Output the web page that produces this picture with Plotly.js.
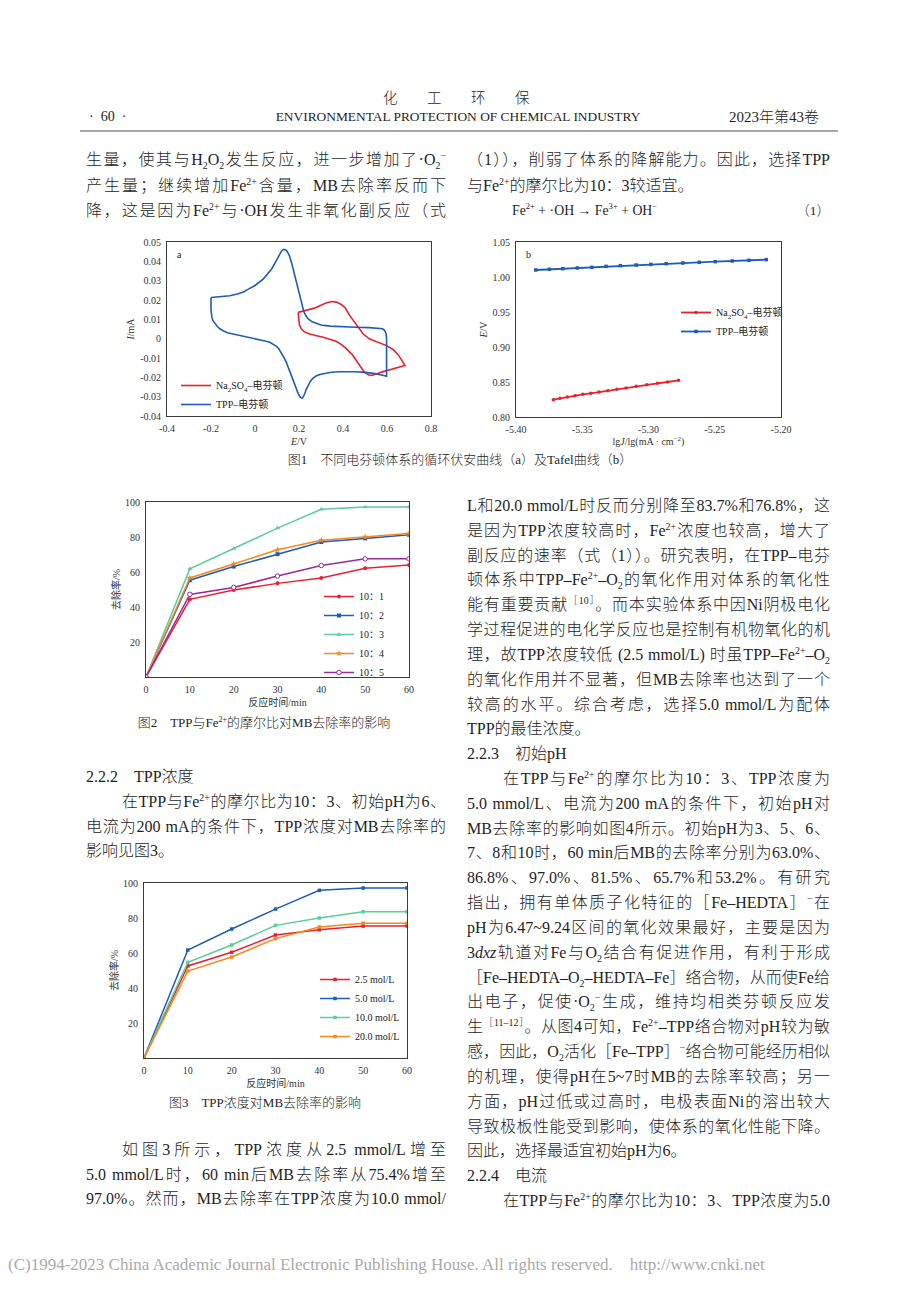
<!DOCTYPE html>
<html><head><meta charset="utf-8">
<script src="https://cdn.plot.ly/plotly-3.0.1.min.js"></script>
<style>
html,body{margin:0;padding:0;background:#fff;}
#page{position:relative;width:920px;height:1302px;overflow:hidden;background:#fff;}
#plot{position:absolute;left:0;top:0;width:920px;height:1302px;}
.t{position:absolute;font-family:"Liberation Serif","Noto Sans CJK SC",serif;color:#1e1e1e;white-space:nowrap;line-height:20px;height:20px;font-weight:300;}
.b{font-size:16px;}
.j{text-align:justify;text-align-last:justify;white-space:normal;}
.t sup,.t sub{font-size:62%;line-height:0;}
.cap{font-size:13px;text-align:center;}
#rule{position:absolute;left:80px;top:130px;width:758px;height:2px;background:#a8a8a8;}
</style></head>
<body><div id="page"><div id="plot"></div><div id="rule"></div></div>
<script>
// ---------- data ----------
const cvTppE = [-0.200,-0.170,-0.140,-0.115,-0.080,-0.050,-0.030,0.000,0.037,0.060,0.075,0.090,0.100,0.113,0.122,0.130,0.138,0.146,0.156,0.166,0.175,0.184,0.194,0.204,0.213,0.222,0.232,0.242,0.260,0.280,0.300,0.340,0.400,0.460,0.520,0.560,0.580,0.590,0.596,0.598,0.598,0.598,
 0.575,0.553,0.520,0.492,0.450,0.416,0.380,0.340,0.310,0.295,0.280,0.264,0.252,0.242,0.233,0.226,0.220,0.216,0.210,0.204,0.196,0.189,0.178,0.166,0.155,0.143,0.130,0.120,0.108,0.098,0.083,0.067,0.045,0.022,-0.010,-0.039,-0.070,-0.100,-0.125,-0.145,-0.160,-0.172,-0.183,-0.191,-0.196,-0.198,-0.200,-0.200,-0.200];
const cvTppI = [0.0213,0.0215,0.0218,0.0222,0.0231,0.0243,0.0256,0.0275,0.0308,0.0338,0.0359,0.0390,0.0411,0.0442,0.0456,0.0462,0.0460,0.0452,0.0430,0.0394,0.0352,0.0308,0.0262,0.0222,0.0178,0.0140,0.0117,0.0102,0.0087,0.0077,0.0071,0.0065,0.0061,0.0059,0.0057,0.0055,0.0051,0.0042,0.0025,0.0000,-0.0100,-0.0194,
 -0.0188,-0.0182,-0.0177,-0.0173,-0.0171,-0.0170,-0.0171,-0.0175,-0.0180,-0.0185,-0.0192,-0.0204,-0.0220,-0.0239,-0.0262,-0.0285,-0.0300,-0.0307,-0.0306,-0.0300,-0.0283,-0.0262,-0.0225,-0.0190,-0.0156,-0.0124,-0.0094,-0.0072,-0.0052,-0.0040,-0.0028,-0.0019,-0.0012,-0.0006,0.0000,0.0007,0.0015,0.0023,0.0031,0.0041,0.0051,0.0064,0.0078,0.0093,0.0110,0.0127,0.0150,0.0180,0.0213];
const cvNaE = [0.196,0.210,0.230,0.249,0.270,0.290,0.320,0.348,0.370,0.390,0.410,0.431,0.450,0.462,0.480,0.492,0.522,0.545,0.568,0.598,0.629,0.651,0.666,0.682,
 0.665,0.645,0.620,0.595,0.575,0.555,0.540,0.530,0.518,0.505,0.492,0.477,0.460,0.440,0.416,0.395,0.371,0.340,0.310,0.280,0.249,0.225,0.211,0.202,0.198,0.196];
const cvNaI = [0.0136,0.0140,0.0145,0.0150,0.0158,0.0168,0.0183,0.0192,0.0189,0.0178,0.0160,0.0119,0.0088,0.0067,0.0042,0.0024,-0.0002,-0.0013,-0.0022,-0.0036,-0.0057,-0.0084,-0.0110,-0.0139,
 -0.0144,-0.0150,-0.0157,-0.0165,-0.0173,-0.0181,-0.0187,-0.0190,-0.0188,-0.0180,-0.0165,-0.0139,-0.0110,-0.0080,-0.0053,-0.0032,-0.0015,-0.0003,0.0007,0.0015,0.0024,0.0035,0.0050,0.0070,0.0100,0.0136];

const tafelTppX = [-5.3851,-5.3748,-5.3647,-5.3537,-5.3428,-5.3320,-5.3212,-5.3093,-5.2982,-5.2866,-5.2741,-5.2617,-5.2496,-5.2368,-5.2242,-5.2111];
const tafelTppY = [1.0100,1.0110,1.0119,1.0129,1.0138,1.0152,1.0162,1.0171,1.0180,1.0190,1.0200,1.0210,1.0219,1.0229,1.0238,1.0248];
const tafelNaX = [-5.3718,-5.3668,-5.3612,-5.3554,-5.3496,-5.3436,-5.3373,-5.3307,-5.3239,-5.3169,-5.3093,-5.3013,-5.2932,-5.2856,-5.2773];
const tafelNaY = [0.8248,0.8267,0.8286,0.8305,0.8324,0.8338,0.8357,0.8376,0.8395,0.8414,0.8438,0.8462,0.8481,0.8500,0.8524];

const time = [0,10,20,30,40,50,60];
const ratio101 = [0,44.4,49.7,53.5,56.6,62.1,64.0];
const ratio102 = [0,55.3,63.1,70.2,77.1,79.2,81.3];
const ratio103 = [0,61.8,73.4,85.1,95.8,97.1,97.1];
const ratio104 = [0,56.6,64.6,72.7,78.2,80.1,82.0];
const ratio105 = [0,47.2,51.2,57.7,63.7,67.5,67.5];
const ratioNames = ['10：1','10：2','10：3','10：4','10：5'];

const conc25 = [0,52.6,60.4,70.3,73.3,75.4,75.4];
const conc50 = [0,61.7,73.7,85.1,95.8,97.1,97.1];
const conc100 = [0,54.7,64.6,75.8,80.0,83.6,83.6];
const conc200 = [0,49.7,57.7,68.2,74.9,77.0,77.0];
const concNames = ['2.5 mol/L','5.0 mol/L','10.0 mol/L','20.0 mol/L'];

const cvXTickVals = [-0.4,-0.2,0,0.2,0.4,0.6,0.8];
const cvXTickText = ['-0.4','-0.2','0','0.2','0.4','0.6','0.8'];
const cvYTickVals = [-0.04,-0.03,-0.02,-0.01,0,0.01,0.02,0.03,0.04,0.05];
const cvYTickText = ['-0.04','-0.03','-0.02','-0.01','0','0.01','0.02','0.03','0.04','0.05'];
const tfXTickVals = [-5.40,-5.35,-5.30,-5.25,-5.20];
const tfXTickText = ['-5.40','-5.35','-5.30','-5.25','-5.20'];
const tfYTickVals = [0.80,0.85,0.90,0.95,1.00,1.05];
const tfYTickText = ['0.80','0.85','0.90','0.95','1.00','1.05'];
const timeTicks = [0,10,20,30,40,50,60];
const rateTicks = [20,40,60,80,100];

// ---------- plot ----------
const W = 920, H = 1302;
const fx = v => v / W, fy = v => 1 - v / H;
const FONT = 'Liberation Serif, Noto Sans CJK SC, serif';
const RED = '#e8212e', BLUE = '#1f5db5', GREEN = '#5ccb9f', ORANGE = '#f5891f', PURPLE = '#9a2a98';

function ax(domain, range, anchor, tv, tt, title, standoff) {
  return {domain, range, anchor, tickvals: tv, ticktext: tt, tickmode: 'array',
    showline: true, mirror: true, linecolor: '#3a3a3a', linewidth: 1, ticks: '',
    showgrid: false, zeroline: false, ticklabelstandoff: 3,
    tickfont: {family: FONT, size: 10, color: '#333'},
    title: {text: title, font: {family: FONT, size: 10, color: '#333'}, standoff: standoff}};
}
function leg(x, y) {
  return {x: fx(x), y: fy(y), xanchor: 'left', yanchor: 'top', bgcolor: 'rgba(0,0,0,0)',
    font: {family: FONT, size: 10, color: '#222'}, itemwidth: 30, tracegroupgap: 0, traceorder: 'normal'};
}

const traces = [
  {x: cvNaE, y: cvNaI, xaxis: 'x', yaxis: 'y', mode: 'lines', line: {color: RED, width: 1.6}, name: 'Na<sub>2</sub>SO<sub>4</sub>–电芬顿', legend: 'legend'},
  {x: cvTppE, y: cvTppI, xaxis: 'x', yaxis: 'y', mode: 'lines', line: {color: BLUE, width: 1.6}, name: 'TPP–电芬顿', legend: 'legend'},
  {x: tafelNaX, y: tafelNaY, xaxis: 'x2', yaxis: 'y2', mode: 'lines+markers', line: {color: RED, width: 1.8}, marker: {symbol: 'circle', size: 3.5, color: RED}, name: 'Na<sub>2</sub>SO<sub>4</sub>–电芬顿', legend: 'legend2'},
  {x: tafelTppX, y: tafelTppY, xaxis: 'x2', yaxis: 'y2', mode: 'lines+markers', line: {color: BLUE, width: 1.8}, marker: {symbol: 'square', size: 3.5, color: BLUE}, name: 'TPP–电芬顿', legend: 'legend2'},
  {x: time, y: ratio101, xaxis: 'x3', yaxis: 'y3', mode: 'lines+markers', line: {color: RED, width: 1.5}, marker: {symbol: 'circle', size: 4, color: RED}, name: ratioNames[0], legend: 'legend3'},
  {x: time, y: ratio102, xaxis: 'x3', yaxis: 'y3', mode: 'lines+markers', line: {color: BLUE, width: 1.5}, marker: {symbol: 'square', size: 4, color: BLUE}, name: ratioNames[1], legend: 'legend3'},
  {x: time, y: ratio103, xaxis: 'x3', yaxis: 'y3', mode: 'lines+markers', line: {color: GREEN, width: 1.5}, marker: {symbol: 'triangle-up', size: 4.5, color: GREEN}, name: ratioNames[2], legend: 'legend3'},
  {x: time, y: ratio104, xaxis: 'x3', yaxis: 'y3', mode: 'lines+markers', line: {color: ORANGE, width: 1.5}, marker: {symbol: 'star', size: 5, color: ORANGE}, name: ratioNames[3], legend: 'legend3'},
  {x: time, y: ratio105, xaxis: 'x3', yaxis: 'y3', mode: 'lines+markers', line: {color: PURPLE, width: 1.5}, marker: {symbol: 'circle', size: 4.5, color: '#fff', line: {color: PURPLE, width: 1}}, name: ratioNames[4], legend: 'legend3'},
  {x: time, y: conc25, xaxis: 'x4', yaxis: 'y4', mode: 'lines+markers', line: {color: RED, width: 1.5}, marker: {symbol: 'square', size: 3.5, color: RED}, name: concNames[0], legend: 'legend4'},
  {x: time, y: conc50, xaxis: 'x4', yaxis: 'y4', mode: 'lines+markers', line: {color: BLUE, width: 1.5}, marker: {symbol: 'square', size: 3.5, color: BLUE}, name: concNames[1], legend: 'legend4'},
  {x: time, y: conc100, xaxis: 'x4', yaxis: 'y4', mode: 'lines+markers', line: {color: GREEN, width: 1.5}, marker: {symbol: 'square', size: 3.5, color: GREEN}, name: concNames[2], legend: 'legend4'},
  {x: time, y: conc200, xaxis: 'x4', yaxis: 'y4', mode: 'lines+markers', line: {color: ORANGE, width: 1.5}, marker: {symbol: 'square', size: 3.5, color: ORANGE}, name: concNames[3], legend: 'legend4'}
];

const layout = {
  width: W, height: H, margin: {l: 0, r: 0, t: 0, b: 0},
  paper_bgcolor: 'rgba(0,0,0,0)', plot_bgcolor: 'rgba(0,0,0,0)', showlegend: true,
  font: {family: FONT},
  xaxis: ax([fx(167), fx(431)], [-0.4, 0.8], 'y', cvXTickVals, cvXTickText, '<i>E</i>/V', 4),
  yaxis: ax([fy(416), fy(242)], [-0.04, 0.05], 'x', cvYTickVals, cvYTickText, '<i>I</i>/mA', 3),
  xaxis2: ax([fx(516), fx(781)], [-5.40, -5.20], 'y2', tfXTickVals, tfXTickText, 'lg<i>J</i>/lg(mA · cm<sup>−2</sup>)', 3),
  yaxis2: ax([fy(417), fy(242)], [0.80, 1.05], 'x2', tfYTickVals, tfYTickText, '<i>E</i>/V', 3),
  xaxis3: ax([fx(146), fx(409)], [0, 60], 'y3', timeTicks, timeTicks.map(String), '反应时间/min', 4),
  yaxis3: ax([fy(677), fy(502)], [0, 100], 'x3', rateTicks, rateTicks.map(String), '去除率/%', 2),
  xaxis4: ax([fx(144), fx(407)], [0, 60], 'y4', timeTicks, timeTicks.map(String), '反应时间/min', 4),
  yaxis4: ax([fy(1058), fy(883)], [0, 100], 'x4', rateTicks, rateTicks.map(String), '去除率/%', 2),
  legend: leg(176, 371),
  legend2: leg(676, 298),
  legend3: leg(319, 582),
  legend4: leg(315, 965),
  annotations: [
    {xref: 'x domain', yref: 'y domain', x: 0.03, y: 0.97, xanchor: 'left', yanchor: 'top', text: 'a', showarrow: false, font: {family: FONT, size: 10, color: '#222'}},
    {xref: 'x2 domain', yref: 'y2 domain', x: 0.03, y: 0.97, xanchor: 'left', yanchor: 'top', text: 'b', showarrow: false, font: {family: FONT, size: 10, color: '#222'}}
  ]
};
Plotly.newPlot('plot', traces, layout, {displayModeBar: false, staticPlot: true});

// ---------- text ----------
const page = document.getElementById('page');
function put(x, yc, w, html, cls, extra) {
  const d = document.createElement('div');
  d.className = 't ' + cls;
  d.style.left = x + 'px'; d.style.top = (yc - 10) + 'px';
  if (w) d.style.width = w + 'px';
  if (extra) Object.assign(d.style, extra);
  d.innerHTML = html;
  page.appendChild(d);
}
// header
put(370, 98, 180, '化　工　环　保', '', {fontSize: '14.5px', letterSpacing: '7.5px', textAlign: 'center'});
put(89, 117, 60, '·&nbsp;&nbsp;60&nbsp;&nbsp;·', '', {fontSize: '14px'});
put(220, 117, 476, 'ENVIRONMENTAL PROTECTION OF CHEMICAL INDUSTRY', '', {fontSize: '13.4px', textAlign: 'center'});
put(690, 117, 129, '2023年第43卷', '', {fontSize: '15px', textAlign: 'right'});

const LX = 86, LW = 360, RX = 467, RW = 363, IND = '36px';
// left top
put(LX, 160, LW, '生量，使其与H<sub>2</sub>O<sub>2</sub>发生反应，进一步增加了·O<sub>2</sub><sup>−</sup>', 'b j');
put(LX, 186, LW, '产生量；继续增加Fe<sup>2+</sup>含量，MB去除率反而下', 'b j');
put(LX, 211, LW, '降，这是因为Fe<sup>2+</sup>与·OH发生非氧化副反应（式', 'b j');
// right top
put(RX, 160, RW, '（1）），削弱了体系的降解能力。因此，选择TPP', 'b j');
put(RX, 186, RW, '与Fe<sup>2+</sup>的摩尔比为10：3较适宜。', 'b');
put(512, 211, 200, 'Fe<sup>2+</sup> + ·OH → Fe<sup>3+</sup> + OH<sup>−</sup>', '', {fontSize: '13.8px'});
put(780, 211, 50, '（1）', '', {fontSize: '13.5px', textAlign: 'right'});
// captions
put(160, 460, 600, '图1　不同电芬顿体系的循环伏安曲线（a）及Tafel曲线（b）', 'cap');
put(64, 723, 400, '图2　TPP与Fe<sup>2+</sup>的摩尔比对MB去除率的影响', 'cap');
put(65, 1103, 400, '图3　TPP浓度对MB去除率的影响', 'cap');
// left lower
put(LX, 777, LW, '2.2.2&emsp;TPP浓度', 'b');
put(LX, 802, LW, '在TPP与Fe<sup>2+</sup>的摩尔比为10：3、初始pH为6、', 'b j', {textIndent: IND});
put(LX, 826.6, LW, '电流为200 mA的条件下，TPP浓度对MB去除率的', 'b j');
put(LX, 851.4, LW, '影响见图3。', 'b');
put(LX, 1150, LW, '如图3所示，TPP浓度从2.5 mmol/L增至', 'b j', {textIndent: IND});
put(LX, 1174.6, LW, '5.0 mmol/L时，60 min后MB去除率从75.4%增至', 'b j');
put(LX, 1199.2, LW, '97.0%。然而，MB去除率在TPP浓度为10.0 mmol/', 'b j');
// right column
const rLines = [
 ['L和20.0 mmol/L时反而分别降至83.7%和76.8%，这', 'j'],
 ['是因为TPP浓度较高时，Fe<sup>2+</sup>浓度也较高，增大了', 'j'],
 ['副反应的速率（式（1））。研究表明，在TPP–电芬', 'j'],
 ['顿体系中TPP–Fe<sup>2+</sup>–O<sub>2</sub>的氧化作用对体系的氧化性', 'j'],
 ['能有重要贡献<sup>［10］</sup>。而本实验体系中因Ni阴极电化', 'j'],
 ['学过程促进的电化学反应也是控制有机物氧化的机', 'j'],
 ['理，故TPP浓度较低 (2.5 mmol/L) 时虽TPP–Fe<sup>2+</sup>–O<sub>2</sub>', 'j'],
 ['的氧化作用并不显著，但MB去除率也达到了一个', 'j'],
 ['较高的水平。综合考虑，选择5.0 mmol/L为配体', 'j'],
 ['TPP的最佳浓度。', ''],
 ['2.2.3&emsp;初始pH', ''],
 ['在TPP与Fe<sup>2+</sup>的摩尔比为10：3、TPP浓度为', 'j i'],
 ['5.0 mmol/L、电流为200 mA的条件下，初始pH对', 'j'],
 ['MB去除率的影响如图4所示。初始pH为3、5、6、', 'j'],
 ['7、8和10时，60 min后MB的去除率分别为63.0%、', 'j'],
 ['86.8%、97.0%、81.5%、65.7%和53.2%。有研究', 'j'],
 ['指出，拥有单体质子化特征的［Fe–HEDTA］<sup>−</sup>在', 'j'],
 ['pH为6.47~9.24区间的氧化效果最好，主要是因为', 'j'],
 ['3<i>dxz</i>轨道对Fe与O<sub>2</sub>结合有促进作用，有利于形成', 'j'],
 ['［Fe–HEDTA–O<sub>2</sub>–HEDTA–Fe］络合物，从而使Fe给', 'j'],
 ['出电子，促使·O<sub>2</sub><sup>−</sup>生成，维持均相类芬顿反应发', 'j'],
 ['生<sup>［11–12］</sup>。从图4可知，Fe<sup>2+</sup>–TPP络合物对pH较为敏', 'j'],
 ['感，因此，O<sub>2</sub>活化［Fe–TPP］<sup>−</sup>络合物可能经历相似', 'j'],
 ['的机理，使得pH在5~7时MB的去除率较高；另一', 'j'],
 ['方面，pH过低或过高时，电极表面Ni的溶出较大', 'j'],
 ['导致极板性能受到影响，使体系的氧化性能下降。', 'j'],
 ['因此，选择最适宜初始pH为6。', ''],
 ['2.2.4&emsp;电流', ''],
 ['在TPP与Fe<sup>2+</sup>的摩尔比为10：3、TPP浓度为5.0', 'j i']
];
rLines.forEach((l, k) => {
  const ind = l[1].indexOf('i') >= 0;
  put(RX, 506 + k * 24.82, RW, l[0], 'b ' + (l[1].indexOf('j') >= 0 ? 'j' : ''), ind ? {textIndent: IND} : null);
});
// footer
put(8, 1265, 900, '(C)1994-2023 China Academic Journal Electronic Publishing House. All rights reserved.&nbsp;&nbsp;&nbsp;&nbsp;http://www.cnki.net', '', {fontSize: '17px', color: '#aaaaaa'});
</script>
</body></html>
